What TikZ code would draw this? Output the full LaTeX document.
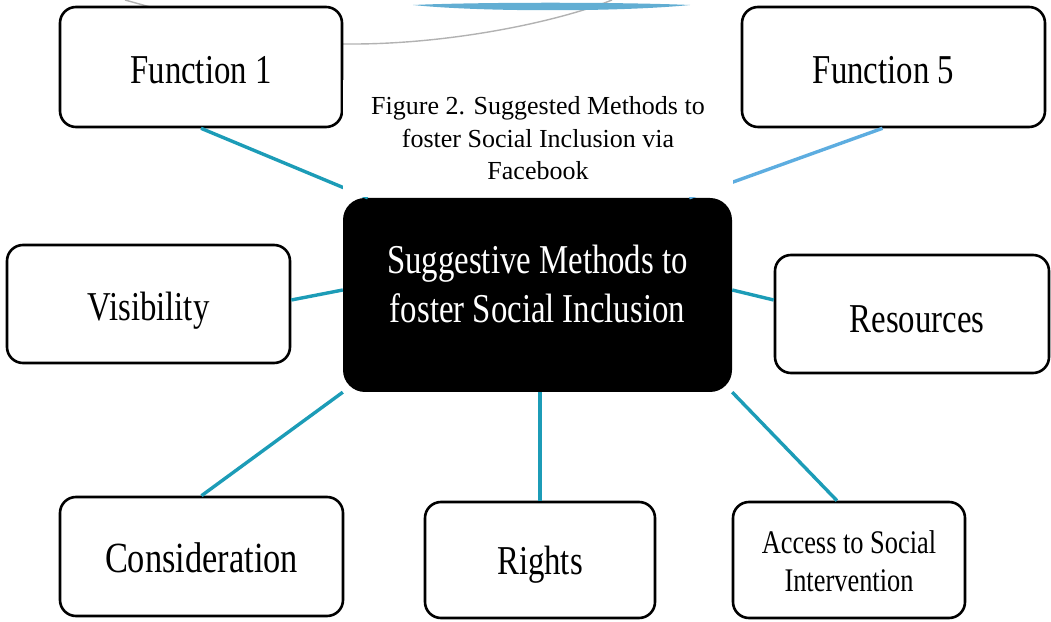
\documentclass[tikz,border=0pt]{standalone}
\usepackage{fontspec}
\setmainfont{Liberation Serif}
\newfontfamily\condfont[FakeStretch=0.8]{Liberation Serif}
\usetikzlibrary{calc}
\definecolor{linkteal}{HTML}{1C9CB7}
\definecolor{linksky}{HTML}{5DADE0}
\definecolor{arcblue}{HTML}{62AED3}
% move a label vertically without changing its box
\newcommand{\shiftlbl}[2]{\raisebox{#1}[\height][\depth]{\begin{tabular}{@{}c@{}}#2\end{tabular}}}
\begin{document}
\begin{tikzpicture}[x=1pt,y=1pt,
  box/.style={draw=black, line width=2.6pt, rounded corners=16pt, fill=white,
    inner sep=0pt, align=center, font=\condfont\fontsize{41}{44}\selectfont},
  smallbox/.style={box, font=\condfont\fontsize{33}{38}\selectfont},
  hub/.style={fill=black, rounded corners=22pt, inner sep=0pt, align=center,
    text=white, font=\condfont\fontsize{41}{49}\selectfont},
  caption/.style={fill=white, inner sep=0pt, align=center,
    font=\fontsize{26}{32.5}\selectfont},
  link/.style={draw=linkteal, line width=3.4pt},
  linklight/.style={draw=linksky, line width=3.4pt},
  deco/.style={draw=black!30, line width=1.4pt}]
\useasboundingbox (0,0) rectangle (1051,621);

% background decorations
\draw[deco] (125,621) .. controls (200,600) and (280,578) .. (345,577)
  .. controls (450,576) and (560,600) .. (612,621);
\fill[arcblue] (413,616) .. controls (480,609) and (620,609) .. (690,616)
  .. controls (620,619) and (480,619) .. (413,616) -- cycle;

% nodes
\node[hub, minimum width=389, minimum height=194] (hub) at (537.5,326)
  {\shiftlbl{7pt}{Suggestive Methods to\\foster Social Inclusion}};
\node[box, minimum width=282, minimum height=120] (f1) at (201,554)
  {\shiftlbl{-8pt}{Function 1}};
\node[box, minimum width=303, minimum height=120] (f5) at (893.5,554)
  {\shiftlbl{-8pt}{Function 5}\hspace*{20pt}};
\node[box, minimum width=283, minimum height=118] (vis) at (148.5,317)
  {\shiftlbl{-8pt}{Visibility}};
\node[box, minimum width=274, minimum height=118] (res) at (912,307)
  {\hspace*{10pt}\shiftlbl{-10pt}{Resources}};
\node[box, minimum width=283, minimum height=119] (cons) at (201.5,64.5)
  {\shiftlbl{-7pt}{\fontsize{43}{44}\selectfont Consideration}};
\node[box, minimum width=230, minimum height=116] (rights) at (540,61)
  {\shiftlbl{-6pt}{Rights}};
\node[smallbox, minimum width=232, minimum height=116] (access) at (849,61)
  {\shiftlbl{-5pt}{Access to Social\\Intervention}};

% connectors
\draw[link] (f1.south) -- ($(hub.north west)+(25,0)$);
\draw[linklight] ($(f5.south)+(-11,0)$) -- ($(hub.north east)+(-43,0)$);
\draw[link] ($(vis.east)+(0,4)$) -- ($(hub.west)+(0,5)$);
\draw[link] ($(hub.east)+(0,5)$) -- ($(res.west)+(0,14)$);
\draw[link] (cons.north) -- (hub.south west);
\draw[link] (rights.north) -- (rights.north |- hub.south);
\draw[link] (hub.south east) -- ($(access.north)+(-12,0)$);

% caption covering the upper connectors
\node[caption, minimum width=390, minimum height=117] (cap) at (538,482.5)
  {Figure 2. Suggested Methods to\\foster Social Inclusion via\\Facebook};
\end{tikzpicture}
\end{document}
